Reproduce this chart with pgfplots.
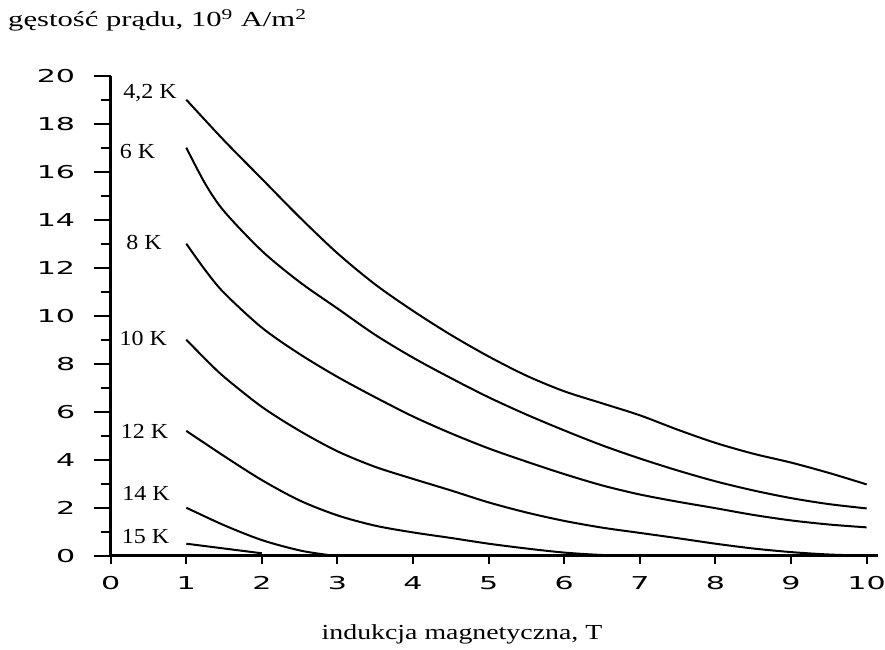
\documentclass[border=0pt]{standalone}
\usepackage{pgfplots}
\pgfplotsset{compat=1.18}
\usepackage{fontspec}
\setmainfont{Liberation Serif}
\newfontfamily\tickfont{DejaVu Sans}
\newcommand\tl[1]{\scalebox{1.7}[1]{#1}}
\begin{document}
\begin{tikzpicture}[x=1bp,y=1bp]
\useasboundingbox (-110.7bp,-94.3bp) rectangle (774.3bp,555.7bp);
\begin{axis}[
  at={(0,0)}, anchor=south west,
  scale only axis, width=767.3bp, height=480bp,
  xmin=0, xmax=10.15, ymin=0, ymax=20,
  axis lines=left, axis line style={-, line width=3bp},
  tick align=outside,
  xtick={0,1,...,10},
  xticklabels={\tl{0},\tl{1},\tl{2},\tl{3},\tl{4},\tl{5},\tl{6},\tl{7},\tl{8},\tl{9},\tl{10}},
  ytick={0,2,...,20},
  yticklabels={\tl{0},\tl{2},\tl{4},\tl{6},\tl{8},\tl{10},\tl{12},\tl{14},\tl{16},\tl{18},\tl{20}},
  minor ytick={1,3,...,19},
  major tick length=17bp, minor tick length=10bp,
  x tick style={/pgfplots/major tick length=8bp},
  tick style={line width=2bp, black},
  ticklabel style={font=\tickfont\fontsize{17.8}{18}\selectfont},
  yticklabel style={xshift=-15bp},
  clip=false,
  no markers,
  cycle list={{black}},
  every axis plot/.append style={line width=2bp, solid, smooth},
]
\addplot coordinates {(1,19) (1.5,17.3) (2,15.7) (2.5,14.1) (3,12.6) (3.5,11.3) (4,10.2) (4.5,9.2) (5,8.3) (5.5,7.5) (6,6.85) (6.5,6.35) (7,5.85) (7.5,5.25) (8,4.7) (8.5,4.25) (9,3.88) (9.5,3.45) (10,2.97)};
\addplot coordinates {(1,17) (1.25,15.5) (1.5,14.35) (2,12.7) (2.5,11.4) (3,10.3) (3.5,9.2) (4,8.25) (4.5,7.4) (5,6.6) (5.5,5.88) (6,5.22) (6.5,4.6) (7,4.05) (7.5,3.55) (8,3.1) (8.5,2.72) (9,2.4) (9.5,2.15) (10,1.97)};
\addplot coordinates {(1,13) (1.25,11.9) (1.5,10.95) (2,9.5) (2.5,8.4) (3,7.45) (3.5,6.6) (4,5.8) (4.5,5.1) (5,4.47) (5.5,3.92) (6,3.4) (6.5,2.93) (7,2.55) (7.5,2.25) (8,1.98) (8.5,1.7) (9,1.47) (9.5,1.3) (10,1.18)};
\addplot coordinates {(1,9) (1.25,8.2) (1.5,7.45) (2,6.2) (2.5,5.2) (3,4.35) (3.5,3.7) (4,3.2) (4.5,2.72) (5,2.22) (5.5,1.8) (6,1.45) (6.5,1.17) (7,0.95) (7.5,0.73) (8,0.5) (8.5,0.3) (9,0.15) (9.5,0.05) (10,0)};
\addplot coordinates {(1,5.2) (1.5,4.15) (2,3.15) (2.5,2.3) (3,1.68) (3.5,1.25) (4,0.97) (4.5,0.74) (5,0.5) (5.5,0.3) (6,0.13) (6.5,0.03) (7,0)};
\addplot coordinates {(1,2.0) (1.5,1.27) (2,0.65) (2.5,0.22) (2.9,0.02) (3,0)};
\addplot coordinates {(1,0.5) (2,0.1)};
\begin{scope}[every node/.style={anchor=base, font=\fontsize{21.5}{22}\selectfont, inner sep=0pt}]
\node at (axis cs:0.52,19.07) {\scalebox{1.12}[1]{4,2 K}};
\node at (axis cs:0.355,16.56) {\scalebox{1.12}[1]{6 K}};
\node at (axis cs:0.44,12.74) {\scalebox{1.12}[1]{8 K}};
\node at (axis cs:0.43,8.74) {\scalebox{1.12}[1]{10 K}};
\node at (axis cs:0.447,4.89) {\scalebox{1.12}[1]{12 K}};
\node at (axis cs:0.467,2.29) {\scalebox{1.12}[1]{14 K}};
\node at (axis cs:0.46,0.52) {\scalebox{1.12}[1]{15 K}};
\end{scope}
\end{axis}
\node[anchor=base west, inner sep=0pt, font=\fontsize{21.5}{22}\selectfont] at (-102.7bp,529bp) {\scalebox{1.43}[1]{gęstość prądu, 10\textsuperscript{9} A/m\textsuperscript{2}}};
\node[anchor=base, inner sep=0pt, font=\fontsize{21.5}{22}\selectfont] at (351.3bp,-83.3bp) {\scalebox{1.3}[1]{indukcja magnetyczna, T}};
\end{tikzpicture}
\end{document}
